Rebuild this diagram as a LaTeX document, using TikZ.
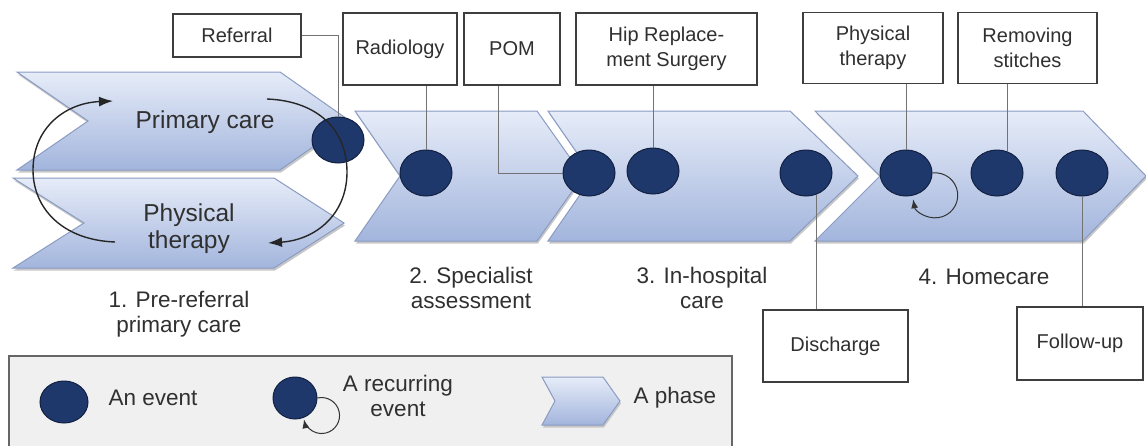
\documentclass[tikz,border=0pt]{standalone}
\usepackage{fontspec}
\setmainfont{Liberation Sans}
\usetikzlibrary{arrows.meta,shapes.geometric}

\definecolor{chevtop}{RGB}{230,236,248}
\definecolor{chevbot}{RGB}{163,181,221}
\definecolor{chevline}{RGB}{138,156,194}
\definecolor{evfill}{RGB}{31,56,108}
\definecolor{evline}{RGB}{18,32,66}
\definecolor{boxline}{RGB}{62,62,62}
\definecolor{conline}{RGB}{115,115,115}
\definecolor{txtgray}{RGB}{48,48,48}
\definecolor{legfill}{RGB}{240,240,240}

\begin{document}
\begin{tikzpicture}[x=1pt, y=-1pt, >={Latex[length=14pt,width=10pt]}]
        \tikzset{
            phase/.style={draw=chevline, line width=1pt, top color=chevtop, bottom color=chevbot,
                preaction={fill=black!22, transform canvas={xshift=1pt, yshift=-2.5pt}}},
            phasetext/.style={text=txtgray, align=center, font=\fontsize{24.5}{27}\selectfont},
            phasename/.style={text=txtgray, align=center, font=\fontsize{22.5}{25}\selectfont},
            infobox/.style={draw=boxline, line width=1.5pt, fill=white, text=txtgray, align=center,
                inner sep=0pt, font=\fontsize{20}{25}\selectfont},
            event/.style={ellipse, draw=evline, line width=1pt, fill=evfill, inner sep=0pt,
                minimum width=52pt, minimum height=46pt},
            conn/.style={draw=conline, line width=0.9pt},
            cyc/.style={->, line width=1.4pt, draw=black!85},
            loopar/.style={-{Latex[length=9pt,width=7pt]}, line width=1pt, draw=black!80}
        }

        \useasboundingbox (0,0) rectangle (1146,445);

        \draw[phase] (17,72) -- (280,72) -- (350,121) -- (280,170) -- (17,170) -- (88,121) -- cycle;
        \draw[phase] (13,178) -- (274,178) -- (344,223) -- (274,268) -- (13,268) -- (84,223) -- cycle;
        \draw[phase] (355,111) -- (537,111) -- (583,176) -- (537,241) -- (355,241) -- (400,176) -- cycle;
        \draw[phase] (548,111) -- (790,111) -- (858,176) -- (790,241) -- (548,241) -- (593,176) -- cycle;
        \draw[phase] (815,111) -- (1083,111) -- (1146,176) -- (1083,241) -- (815,241) -- (880,176) -- cycle;

        \node[phasetext] (primary) at (205,122) {Primary care};
        \node[phasetext] (physio) at (189,229) {Physical\\therapy};

        \node[infobox, minimum width=128pt, minimum height=43pt] (referral) at (237,35.5) {Referral};
        \node[infobox, minimum width=114pt, minimum height=72pt] (radiology) at (400,49) {Radiology};
        \node[infobox, minimum width=96pt, minimum height=72pt] (pom) at (512,49) {POM};
        \node[infobox, minimum width=181pt, minimum height=72pt] (hip) at (666.5,49) {Hip Replace-\\ment Surgery};
        \node[infobox, minimum width=140pt, minimum height=71pt] (pt) at (873,48) {Physical\\therapy};
        \node[infobox, minimum width=139pt, minimum height=71pt] (stitches) at (1027.5,48) {Removing\\stitches};
        \node[infobox, minimum width=145pt, minimum height=72pt] (discharge) at (835.5,346) {Discharge};
        \node[infobox, minimum width=126pt, minimum height=73pt] (followup) at (1080,343.5) {Follow-up};

        \node[event] (eref) at (338,140) {};
        \node[event] (erad) at (426,173) {};
        \node[event] (epom) at (589,173) {};
        \node[event] (ehip) at (653,171) {};
        \node[event] (edis) at (806,173) {};
        \node[event] (ept) at (906,173) {};
        \node[event] (estitch) at (997,173) {};
        \node[event] (efu) at (1082,173) {};

        \draw[conn] (referral.east) -| (eref.north);
        \draw[conn] (erad.north) -- (erad.north |- radiology.south);
        \draw[conn] (epom.west) -| ([xshift=-14pt]pom.south);
        \draw[conn] (ehip.north) -- (ehip.north |- hip.south);
        \draw[conn] (edis.-65) -- (edis.-65 |- discharge.north);
        \draw[conn] (ept.north) -- (ept.north |- pt.south);
        \draw[conn] (estitch.65) -- (estitch.65 |- stitches.south);
        \draw[conn] (efu.south) -- (efu.south |- followup.north);

        \draw[cyc] (267,99) .. controls (318,101) and (347,130) .. (347,172)
            .. controls (347,215) and (315,240) .. (268,243);
        \draw[cyc] (115,242) .. controls (62,240) and (33,208) .. (33,170)
            .. controls (33,128) and (65,103) .. (113,101);
        \draw[loopar] (ept.east) arc[start angle=97, end angle=-170, radius=22.5pt];

        \node[phasename] (stage1) at (179,314) {1. Pre-referral\\primary care};
        \node[phasename] (stage2) at (471,288) {2. Specialist\\assessment};
        \node[phasename] (stage3) at (702,288) {3. In-hospital\\care};
        \node[phasename] (stage4) at (984,277) {4. Homecare};

        \draw[draw=black!60, line width=2pt, fill=legfill] (9,356) rectangle (732,452);
        \node[event, minimum width=48pt, minimum height=42pt] (lgev) at (64,402) {};
        \node[phasename, anchor=west] (lgevtext) at (105,398) {An event};
        \node[event, minimum width=44pt, minimum height=42pt] (lgrec) at (295,398) {};
        \draw[loopar] (lgrec.east) arc[start angle=103, end angle=-168, radius=18pt];
        \node[phasename] (lgrectext) at (398,396) {A recurring\\event};
        \draw[phase] (542,377) -- (603,377) -- (620,401) -- (603,425) -- (542,425) -- (555,401) -- cycle;
        \node[phasename, anchor=west] (lgphtext) at (630,398) {A phase};
    \end{tikzpicture}
\end{document}
